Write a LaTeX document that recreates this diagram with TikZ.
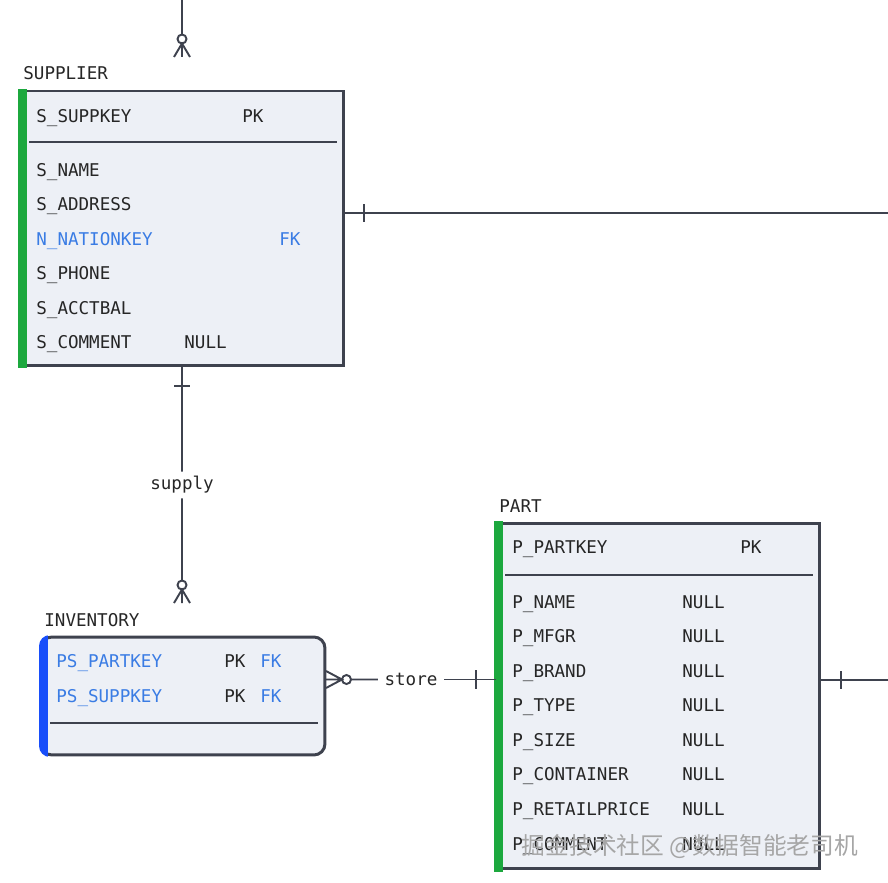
\documentclass[tikz,border=0pt]{standalone}
\usepackage{fontspec}
\setmonofont{DejaVu Sans Mono}
\newfontfamily\cjk{Noto Sans CJK SC}
\usetikzlibrary{positioning,calc}
\definecolor{erLine}{RGB}{62,66,78}
\definecolor{erFill}{RGB}{237,240,246}
\definecolor{erGreen}{RGB}{28,168,62}
\definecolor{erBlue}{RGB}{24,78,250}
\definecolor{erKey}{RGB}{58,124,228}
\tikzset{
  entity/.style={draw=erLine, fill=erFill, line width=1.7pt, outer sep=0pt, inner sep=0pt, anchor=north west},
  field/.style={anchor=base west, inner sep=0pt, text=black!85, font=\ttfamily\fontsize{10}{12}\selectfont},
  keyfield/.style={field, text=erKey},
  rel/.style={inner xsep=3.6pt, inner ysep=2.5pt, text=black!85, font=\ttfamily\fontsize{10}{12}\selectfont},
  link/.style={draw=erLine, line width=1.1pt},
  divider/.style={draw=erLine, line width=1.1pt},
  wmark/.style={inner sep=0pt, text=gray!70, font=\cjk\fontsize{13.5}{15}\selectfont}
}

\begin{document}
\begin{tikzpicture}[x=0.02cm, y=-0.02cm]
  \useasboundingbox (0,0) rectangle (888,882);

  % entities
  \node[entity, minimum width=6.48cm, minimum height=5.50cm] (supplier) at (20,91) {};
  \fill[erGreen] (18,89) rectangle (27,368);
  \node[entity, rounded corners=0.22cm, minimum width=5.68cm, minimum height=2.36cm] (inventory) at (41,637) {};
  \begin{scope}
    \clip[rounded corners=0.22cm] (39,635) rectangle (327,757);
    \fill[erBlue] (39,635) rectangle (48,757);
  \end{scope}
  \node[entity, minimum width=6.48cm, minimum height=6.92cm] (part) at (496,523) {};
  \fill[erGreen] (494,521) rectangle (503,872);

  % titles
  \node[field] (supplierTitle) at (23,80) {SUPPLIER};
  \node[field] (inventoryTitle) at (44,626) {INVENTORY};
  \node[field] (partTitle) at (499,512) {PART};

  % SUPPLIER fields
  \node[field] (suppKey) at (36,122) {S\_SUPPKEY};
  \node[field] (suppKeyPk) at (242,122) {PK};
  \draw[divider] (29,142) -- (337,142);
  \foreach \fname/\fy [count=\i] in {S\_NAME/176, S\_ADDRESS/210, S\_PHONE/279, S\_ACCTBAL/314}
    \node[field] (supp-\i) at (36,\fy) {\fname};
  \node[keyfield] (suppNation) at (36,245) {N\_NATIONKEY};
  \node[keyfield] (suppNationFk) at (279,245) {FK};
  \node[field] (suppComment) at (36,348) {S\_COMMENT};
  \node[field] (suppCommentNull) at (184,348) {NULL};

  % INVENTORY fields
  \node[keyfield] (invPart) at (56,667) {PS\_PARTKEY};
  \node[field] (invPartPk) at (224,667) {PK};
  \node[keyfield] (invPartFk) at (260,667) {FK};
  \node[keyfield] (invSupp) at (56,702) {PS\_SUPPKEY};
  \node[field] (invSuppPk) at (224,702) {PK};
  \node[keyfield] (invSuppFk) at (260,702) {FK};
  \draw[divider] (50,723) -- (318,723);

  % PART fields
  \node[field] (partKey) at (512,553) {P\_PARTKEY};
  \node[field] (partKeyPk) at (740,553) {PK};
  \draw[divider] (505,575) -- (813,575);
  \foreach \fname [count=\i] in {P\_NAME, P\_MFGR, P\_BRAND, P\_TYPE, P\_SIZE, P\_CONTAINER, P\_RETAILPRICE, P\_COMMENT} {
    \node[field] (part-\i) at (512,{608+34.57*(\i-1)}) {\fname};
    \node[field] (partNull-\i) at (682,{608+34.57*(\i-1)}) {NULL};
  }

  % relationship labels
  \node[rel] (supplyLbl) at (182,485) {supply};
  \node[rel] (storeLbl) at (411,679.5) {store};

  % connectors
  \coordinate (topIn) at (182,0);
  \coordinate (suppOut) at (888,213);
  \coordinate (partOut) at (888,680);

  \draw[link] (topIn) -- (182,34.5) (182,39) circle[radius=4.5]
    (174,57) -- (182,43.5) -- (190,57) (182,43.5) -- (182,57);

  \draw[link] (supplier.east |- suppOut) -- (suppOut);
  \draw[link] (364,204) -- (364,222);

  \draw[link] (supplier.south) -- (supplyLbl);
  \draw[link] (174,386) -- (190,386);
  \draw[link] (supplyLbl) -- (182,580.5) (182,585) circle[radius=4.5]
    (174,603) -- (182,589.5) -- (190,603) (182,589.5) -- (182,603);

  \draw[link] (inventory.east |- storeLbl) -- (342,679.5)
    (326,671) -- (342,679.5) -- (326,688) (346.5,679.5) circle[radius=4.5]
    (351,679.5) -- (storeLbl);
  \draw[link] (storeLbl) -- (part.west |- storeLbl);
  \draw[link] (476,670) -- (476,689);

  \draw[link] (part.east |- partOut) -- (partOut);
  \draw[link] (841,671) -- (841,689);

  % watermark
  \node[wmark] (watermark) at (690,846) {掘金技术社区 @数据智能老司机};
\end{tikzpicture}
\end{document}
